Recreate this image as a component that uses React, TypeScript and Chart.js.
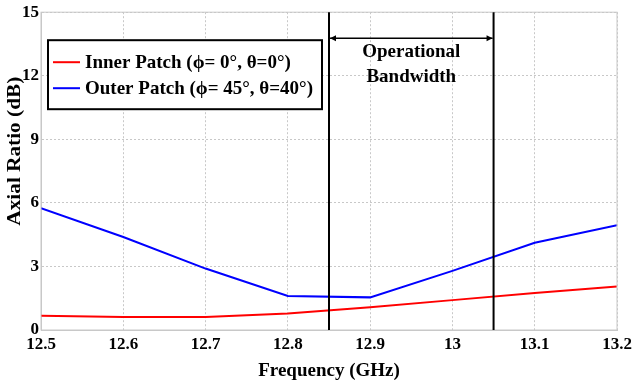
import React, { useEffect, useRef } from "react";
import { Chart, registerables } from "chart.js";
Chart.register(...registerables);

const frequencies = [12.5, 12.6, 12.7, 12.8, 12.9, 13.0, 13.1, 13.2];
const innerPatch = [0.67, 0.61, 0.61, 0.78, 1.07, 1.41, 1.75, 2.05];
const outerPatch = [5.75, 4.39, 2.9, 1.61, 1.54, 2.79, 4.12, 4.95];
const bandEdges = [12.85, 13.05];
const seriesLabels = ["Inner Patch (\u03d5= 0\u00b0, \u03b8=0\u00b0)", "Outer Patch (\u03d5= 45\u00b0, \u03b8=40\u00b0)"];
const seriesColors = ["#ff0000", "#0000ff"];
const bandLabel = ["Operational", "Bandwidth"];
const yTitle = "Axial Ratio (dB)";
const xTitle = "Frequency (GHz)";

const FONT = "'Liberation Serif', 'Times New Roman', serif";

export default function App() {
  const ref = useRef<HTMLCanvasElement | null>(null);
  useEffect(() => {
    document.body.style.margin = "0";
    const canvas = ref.current!;
    const overlay = {
      id: "overlay",
      afterDatasetsDraw(chart: any) {
        const { ctx, chartArea, scales } = chart;
        const xs = scales.x;
        ctx.save();
        ctx.strokeStyle = "#c8c8c8";
        ctx.lineWidth = 1;
        ctx.strokeRect(chartArea.left, chartArea.top, chartArea.right - chartArea.left, chartArea.bottom - chartArea.top);
        ctx.strokeStyle = "#000";
        ctx.lineWidth = 2;
        const px = bandEdges.map((v) => xs.getPixelForValue(v));
        px.forEach((p) => {
          ctx.beginPath();
          ctx.moveTo(p, chartArea.top);
          ctx.lineTo(p, chartArea.bottom);
          ctx.stroke();
        });
        const ay = chartArea.top + 26;
        ctx.lineWidth = 1.5;
        ctx.beginPath();
        ctx.moveTo(px[0] + 1, ay);
        ctx.lineTo(px[1] - 1, ay);
        ctx.stroke();
        ctx.fillStyle = "#000";
        const ah = 6;
        ctx.beginPath();
        ctx.moveTo(px[0] + 1, ay);
        ctx.lineTo(px[0] + 1 + ah, ay - 3);
        ctx.lineTo(px[0] + 1 + ah, ay + 3);
        ctx.closePath();
        ctx.fill();
        ctx.beginPath();
        ctx.moveTo(px[1] - 1, ay);
        ctx.lineTo(px[1] - 1 - ah, ay - 3);
        ctx.lineTo(px[1] - 1 - ah, ay + 3);
        ctx.closePath();
        ctx.fill();
        ctx.font = `bold 19px ${FONT}`;
        ctx.textAlign = "center";
        ctx.textBaseline = "middle";
        const cx = (px[0] + px[1]) / 2;
        ctx.fillText(bandLabel[0], cx, ay + 14);
        ctx.fillText(bandLabel[1], cx, ay + 39);
        const lx = chartArea.left + 7;
        const ly = chartArea.top + 28;
        const lw = 274;
        const lh = 69;
        ctx.fillStyle = "#fff";
        ctx.fillRect(lx, ly, lw, lh);
        ctx.strokeStyle = "#000";
        ctx.lineWidth = 2;
        ctx.strokeRect(lx, ly, lw, lh);
        ctx.font = `bold 19px ${FONT}`;
        ctx.textAlign = "left";
        seriesLabels.forEach((lab, i) => {
          const yy = ly + 22 + i * 26;
          ctx.strokeStyle = seriesColors[i];
          ctx.lineWidth = 2;
          ctx.beginPath();
          ctx.moveTo(lx + 5, yy);
          ctx.lineTo(lx + 32, yy);
          ctx.stroke();
          ctx.fillStyle = "#000";
          ctx.fillText(lab, lx + 37, yy + 1);
        });
        // y-axis title
        ctx.translate(15, chartArea.top + 139);
        ctx.rotate(-Math.PI / 2);
        ctx.scale(1.12, 1);
        ctx.font = `bold 19px ${FONT}`;
        ctx.textAlign = "center";
        ctx.textBaseline = "middle";
        ctx.fillStyle = "#000";
        ctx.fillText(yTitle, 0, 0);
        ctx.restore();
      },
    };
    const chart = new Chart(canvas, {
      type: "line",
      data: {
        datasets: [
          {
            label: seriesLabels[0],
            data: frequencies.map((f, i) => ({ x: f, y: innerPatch[i] })),
            borderColor: seriesColors[0],
            backgroundColor: seriesColors[0],
            borderWidth: 2,
            pointRadius: 0,
            tension: 0,
          },
          {
            label: seriesLabels[1],
            data: frequencies.map((f, i) => ({ x: f, y: outerPatch[i] })),
            borderColor: seriesColors[1],
            backgroundColor: seriesColors[1],
            borderWidth: 2,
            pointRadius: 0,
            tension: 0,
          },
        ],
      },
      options: {
        animation: false,
        responsive: false,
        maintainAspectRatio: false,
        layout: { padding: { top: 1, right: 0, left: 0, bottom: 0 } },
        plugins: { legend: { display: false }, tooltip: { enabled: false } },
        scales: {
          x: {
            type: "linear",
            min: 12.5,
            max: 13.2,
            afterFit: (axis: any) => {
              axis.height = 58;
              axis.paddingRight = 15;
            },
            ticks: {
              stepSize: 0.1,
              color: "#000",
              font: { family: FONT, size: 17, weight: "bold" },
              padding: 4,
              maxRotation: 0,
              callback: (v: any) => String(Number(Number(v).toFixed(1))),
            },
            grid: { color: "#c8c8c8", drawTicks: false } as any,
            border: { color: "#c8c8c8", dash: [2, 2] } as any,
            title: {
              display: true,
              text: xTitle,
              color: "#000",
              font: { family: FONT, size: 19, weight: "bold" },
              padding: { top: 2, bottom: 6 },
            },
          },
          y: {
            min: 0,
            max: 15,
            afterFit: (axis: any) => {
              axis.width = 41;
            },
            ticks: {
              stepSize: 3,
              color: "#000",
              font: { family: FONT, size: 17, weight: "bold" },
              padding: 2,
            },
            grid: { color: "#c8c8c8", drawTicks: false } as any,
            border: { color: "#c8c8c8", dash: [2, 2] } as any,
            title: { display: false },
          },
        },
      },
      plugins: [overlay],
    } as any);
    return () => chart.destroy();
  }, []);
  return (
    <div style={{ width: 632, height: 388, background: "#fff" }}>
      <canvas ref={ref} width={632} height={388} />
    </div>
  );
}
